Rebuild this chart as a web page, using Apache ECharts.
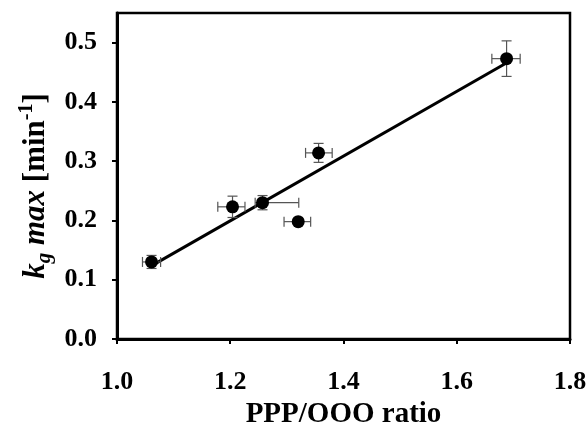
<!DOCTYPE html>
<html>
<head>
<meta charset="utf-8">
<script src="https://cdn.jsdelivr.net/npm/echarts@6/dist/echarts.min.js"></script>
<style>
  html, body { margin: 0; padding: 0; background: #fff; }
  #chart { width: 587px; height: 432px; }
</style>
</head>
<body>
<div id="chart"></div>
<script>
// PPP/OOO ratio vs. maximum growth rate constant
const ratio      = [1.061, 1.204, 1.257, 1.320, 1.356, 1.688];
const kgMax      = [0.130, 0.223, 0.230, 0.198, 0.314, 0.473];
const ratioErrLo = [0.016, 0.026, 0.013, 0.025, 0.023, 0.026];
const ratioErrHi = [0.016, 0.022, 0.064, 0.022, 0.024, 0.024];
const kgErr      = [0.011, 0.018, 0.012, 0.005, 0.016, 0.030];

// linear fit drawn across the data range
const fitX = [1.06, 1.69];
const fitY = [0.123, 0.467];

const yTicks = [0.0, 0.1, 0.2, 0.3, 0.4, 0.5];

const points = ratio.map((x, i) => [x, kgMax[i]]);
const errRows = ratio.map((x, i) => [x, kgMax[i], x - ratioErrLo[i], x + ratioErrHi[i], kgMax[i] - kgErr[i], kgMax[i] + kgErr[i]]);
const fitLine = fitX.map((x, i) => [x, fitY[i]]);

const FONT = '"Liberation Serif", "Times New Roman", serif';

function renderErr(params, api) {
  const c = api.coord([api.value(0), api.value(1)]);
  const xl = api.coord([api.value(2), api.value(1)]);
  const xr = api.coord([api.value(3), api.value(1)]);
  const yb = api.coord([api.value(0), api.value(4)]);
  const yt = api.coord([api.value(0), api.value(5)]);
  const cap = 5;
  const style = { stroke: '#555', lineWidth: 1.2, fill: null };
  const seg = (x1, y1, x2, y2) => ({ type: 'line', shape: { x1, y1, x2, y2 }, style });
  return {
    type: 'group',
    children: [
      seg(xl[0], c[1], xr[0], c[1]),
      seg(xl[0], c[1] - cap, xl[0], c[1] + cap),
      seg(xr[0], c[1] - cap, xr[0], c[1] + cap),
      seg(c[0], yb[1], c[0], yt[1]),
      seg(c[0] - cap, yb[1], c[0] + cap, yb[1]),
      seg(c[0] - cap, yt[1], c[0] + cap, yt[1])
    ]
  };
}

const chart = echarts.init(document.getElementById('chart'), null, { renderer: 'canvas' });
chart.setOption({
  animation: false,
  backgroundColor: '#fff',
  grid: {
    left: 117, right: 17, top: 13, bottom: 93,
    outerBoundsMode: 'none',
    show: true, borderColor: '#000', borderWidth: 2.5
  },
  xAxis: {
    type: 'value', min: 1.0, max: 1.8, interval: 0.2,
    name: 'PPP/OOO ratio', nameLocation: 'middle', nameGap: 61, nameMoveOverlap: false,
    nameTextStyle: { fontFamily: FONT, fontWeight: 'bold', fontSize: 29, color: '#000' },
    axisLine: { lineStyle: { color: '#000', width: 3 } },
    axisTick: { show: true, inside: false, length: 5, lineStyle: { color: '#000', width: 2 } },
    axisLabel: { formatter: v => v.toFixed(1), margin: 30, hideOverlap: false,
      fontFamily: FONT, fontWeight: 'bold', fontSize: 26, color: '#000' },
    splitLine: { show: false }
  },
  yAxis: {
    type: 'value', min: 0, max: 0.55, interval: 0.1,
    name: '{it|k}{sub|g}{it| max} [min{sup|-1}]',
    nameLocation: 'middle', nameGap: 62, nameRotate: 90, nameMoveOverlap: false,
    nameTextStyle: {
      fontFamily: FONT, fontWeight: 'bold', fontSize: 31, color: '#000', lineHeight: 38,
      padding: [0, 20, 0, 0],
      rich: {
        it:  { fontFamily: FONT, fontWeight: 'bold', fontStyle: 'italic', fontSize: 31, color: '#000', lineHeight: 38, verticalAlign: 'middle' },
        sub: { fontFamily: FONT, fontWeight: 'bold', fontStyle: 'italic', fontSize: 21, color: '#000', lineHeight: 38, verticalAlign: 'bottom' },
        sup: { fontFamily: FONT, fontWeight: 'bold', fontSize: 20, color: '#000', lineHeight: 38, verticalAlign: 'top' }
      }
    },
    axisLine: { show: true, lineStyle: { color: '#000', width: 3 } },
    axisTick: { show: true, inside: false, length: 5, lineStyle: { color: '#000', width: 2 }, customValues: yTicks },
    axisLabel: { customValues: yTicks, formatter: v => v.toFixed(1), margin: 20,
      fontFamily: FONT, fontWeight: 'bold', fontSize: 26, color: '#000' },
    splitLine: { show: false }
  },
  series: [
    {
      type: 'line', data: fitLine, symbol: 'none',
      lineStyle: { color: '#000', width: 3 }, z: 2
    },
    {
      type: 'custom', data: errRows, renderItem: renderErr,
      encode: { x: [0, 2, 3], y: [1, 4, 5] }, z: 3
    },
    {
      type: 'scatter', data: points, symbol: 'circle', symbolSize: 13,
      itemStyle: { color: '#000', opacity: 1 }, z: 4
    }
  ]
});
</script>
</body>
</html>
